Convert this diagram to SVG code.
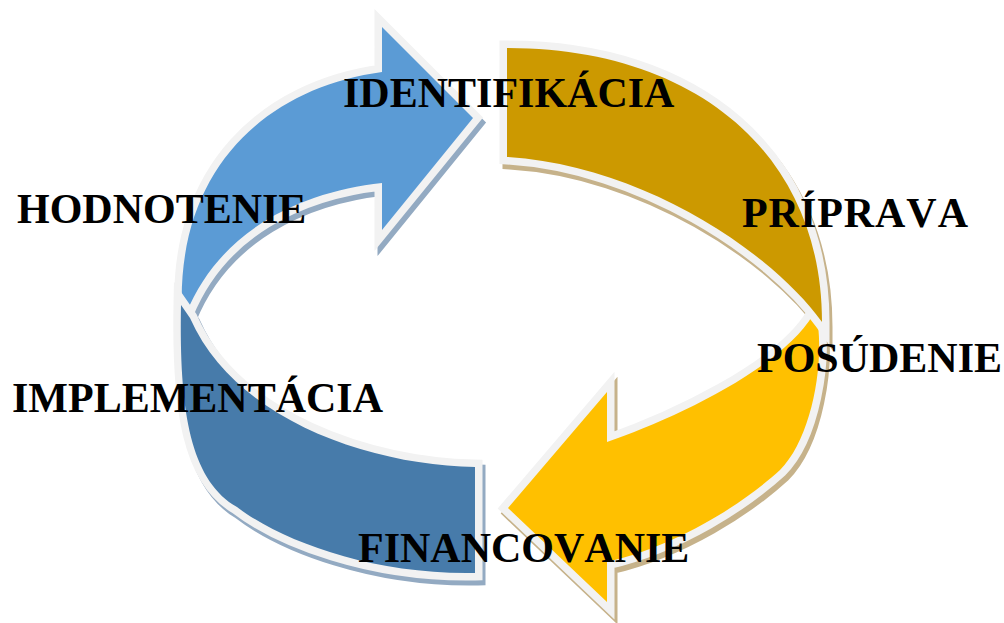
<svg xmlns="http://www.w3.org/2000/svg" width="1004" height="623" viewBox="0 0 1004 623">
<defs>
<style>
.seg{stroke:#F2F2F2;stroke-width:15;stroke-linejoin:miter;stroke-miterlimit:10;paint-order:stroke}
.sh{stroke-width:15;stroke-linejoin:miter;stroke-miterlimit:10;paint-order:stroke}
.shb{fill:#93AAC2;stroke:#93AAC2}
.sht{fill:#C6B28A;stroke:#C6B28A}
.lbl{font-family:"Liberation Serif","Times New Roman",serif;font-weight:bold;font-size:42px;fill:#000;font-kerning:none;font-feature-settings:"kern" 0}
</style>
<path id="pBlue" d="M182,312 C176,170 265,88 382,72 L382,27 L473,118 L382,230 L382,183 C300,192 220,230 186,314 Z"/>
<path id="pGold" d="M507,48 C697,48 822,155 822,322 C770,250 640,165 507,157 Z"/>
<path id="pYellow" d="M816,312 C826,360 812,438 780,470 C745,502 680,545 607,562 L607,602 L508,508 L607,392 L607,442 C670,420 780,370 813,315 Z"/>
<path id="pSteel" d="M181,305 C179,410 190,480 237,507 C280,540 370,575 475,573 L475,467 C370,465 235,420 190,318 Z"/>
</defs>
<g id="shadows" transform="translate(3,5)">
<use href="#pBlue" class="sh shb"/>
<use href="#pSteel" class="sh shb"/>
<use href="#pGold" class="sh sht"/>
<use href="#pYellow" class="sh sht"/>
</g>
<g id="seg-hodnotenie"><use href="#pBlue" class="seg" fill="#5B9BD5"/></g>
<g id="seg-implementacia"><use href="#pSteel" class="seg" fill="#477BAA"/></g>
<g id="seg-posudenie"><use href="#pYellow" class="seg" fill="#FFC000"/></g>
<g id="seg-priprava"><use href="#pGold" class="seg" fill="#CC9900"/></g>
<g id="labels">
<g id="lbl-identifikacia"><text class="lbl" x="343" y="107">IDENTIFIKÁCIA</text></g>
<g id="lbl-hodnotenie"><text class="lbl" x="17" y="223">HODNOTENIE</text></g>
<g id="lbl-priprava"><text class="lbl" x="742" y="227" textLength="226" lengthAdjust="spacing">PRÍPRAVA</text></g>
<g id="lbl-posudenie"><text class="lbl" x="757" y="372">POSÚDENIE</text></g>
<g id="lbl-implementacia"><text class="lbl" x="12" y="412">IMPLEMENTÁCIA</text></g>
<g id="lbl-financovanie"><text class="lbl" x="358" y="562">FINANCOVANIE</text></g>
</g>
</svg>
